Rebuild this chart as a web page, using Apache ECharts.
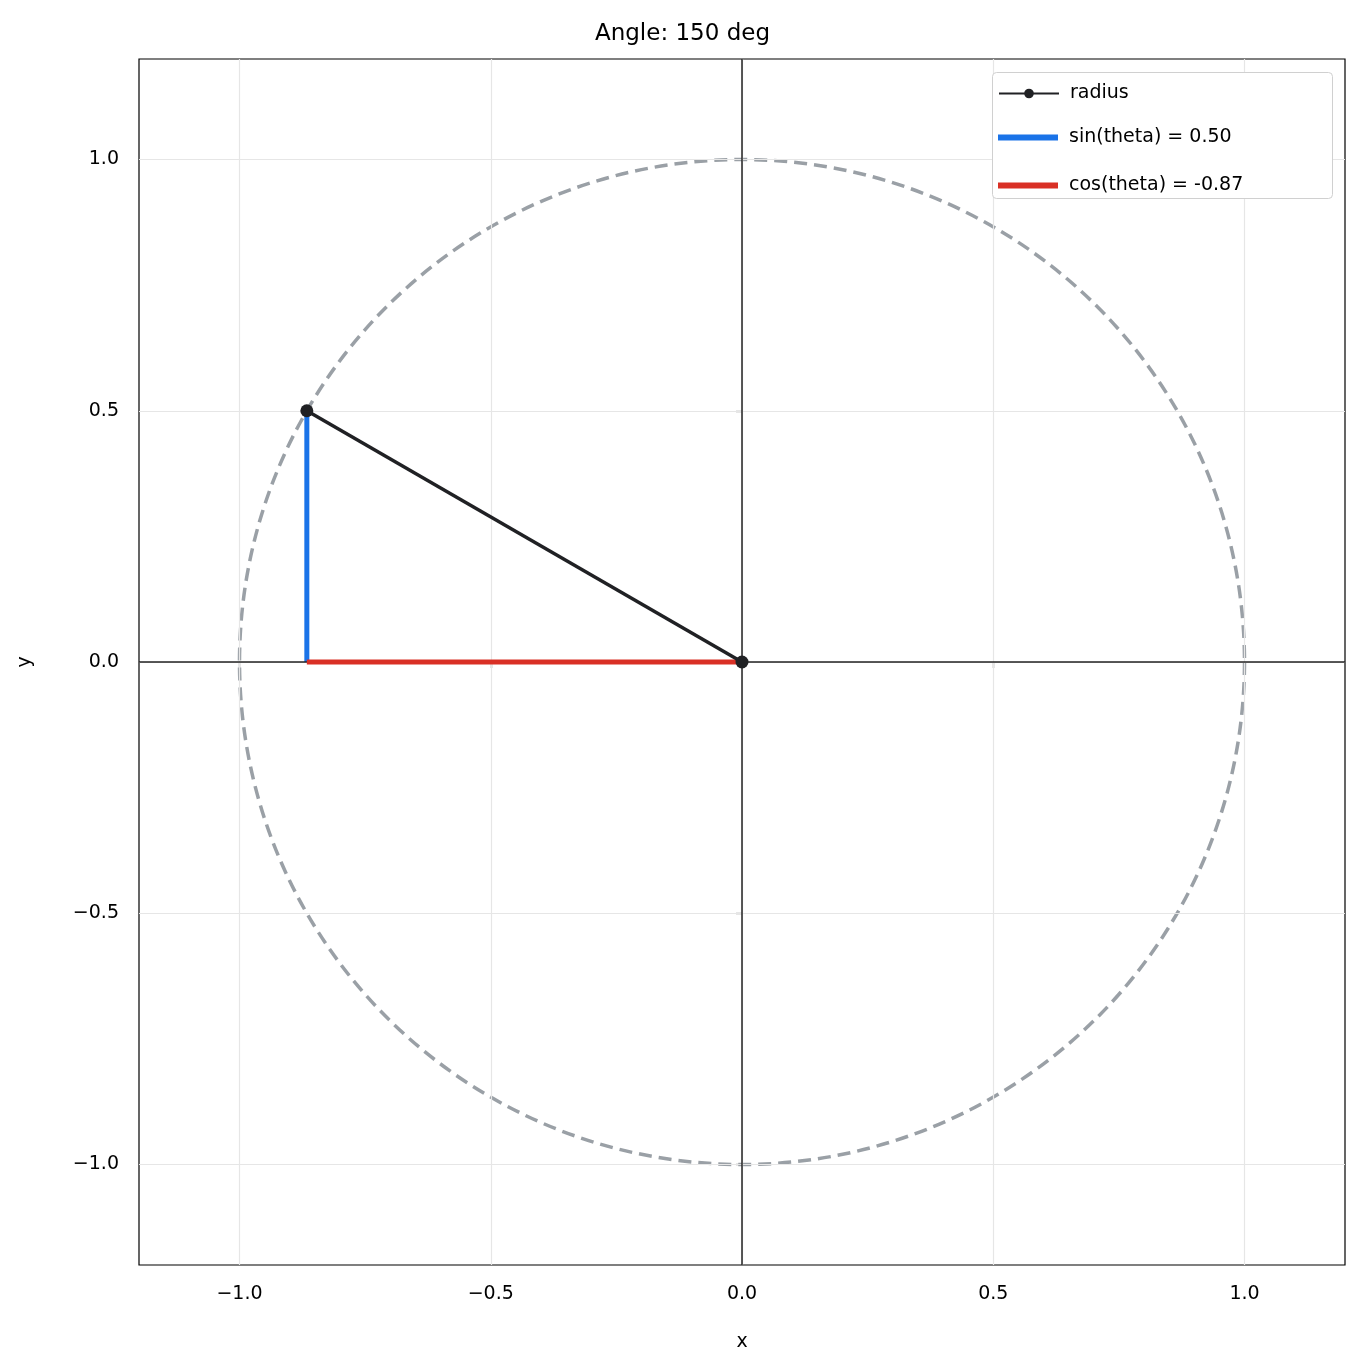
<!DOCTYPE html>
<html><head><meta charset="utf-8">
<script src="https://cdn.jsdelivr.net/npm/echarts@6/dist/echarts.min.js"></script>
<style>html,body{margin:0;padding:0;background:#fff}#c{width:1365px;height:1366px}</style>
</head><body><div id="c"></div>
<script>
const ticks = [-1, -0.5, 0, 0.5, 1];
const angleDeg = 150;
const cosVal = -0.866;
const sinVal = 0.5;
const radiusPts = [[0, 0], [cosVal, sinVal]];
const sinPts = [[cosVal, 0], [cosVal, sinVal]];
const cosPts = [[cosVal, 0], [0, 0]];
const circle = [[0, 0, 1]];

const fmt = v => (v < 0 ? '\u2212' : '') + Math.abs(v).toFixed(1);
const font = 'DejaVu Sans';
function axis(name, gap, margin) {
  return {
    type: 'value', min: -1.2, max: 1.2, name, nameLocation: 'middle', nameGap: gap,
    nameTextStyle: { fontFamily: font, fontSize: 19, color: '#000' },
    axisLine: { show: false },
    axisTick: { show: true, length: 6, customValues: ticks, lineStyle: { color: '#000', width: 1.2 } },
    axisLabel: { customValues: ticks, formatter: fmt, fontFamily: font, fontSize: 19, color: '#000', margin },
    splitLine: { show: false }
  };
}
const gridLines = [];
ticks.forEach(t => { gridLines.push({ xAxis: t }); gridLines.push({ yAxis: t }); });
const legText = { fontFamily: font, fontSize: 19, color: '#000', padding: [0, 0, 0, 6] };

const chart = echarts.init(document.getElementById('c'));
chart.setOption({
  animation: false,
  backgroundColor: '#fff',
  title: { text: 'Angle: ' + angleDeg + ' deg', left: 'center', top: 18,
    textStyle: { fontFamily: font, fontSize: 23, fontWeight: 'normal', color: '#000' } },
  grid: { left: 139, right: 20, top: 59, bottom: 101, show: true, borderColor: '#000', borderWidth: 1.2, backgroundColor: 'transparent' },
  xAxis: axis('x', 68, 20),
  yAxis: axis('y', 104, 20),
  graphic: [{ type: 'rect', left: 992, top: 72, z: 90,
    shape: { width: 340, height: 126, r: 4 },
    style: { fill: '#fff', stroke: '#d0d0d0', lineWidth: 1 } }],
  legend: [
    { orient: 'vertical', left: 998, top: 84, padding: 0, z: 100, itemWidth: 60, itemHeight: 12,
      textStyle: legText, data: ['radius'] },
    { orient: 'vertical', left: 998, top: 128, padding: 0, z: 100, itemGap: 29, itemWidth: 60, itemHeight: 6,
      icon: 'rect', textStyle: legText, data: ['sin(theta) = 0.50', 'cos(theta) = -0.87'] }
  ],
  series: [
    { type: 'line', data: [], silent: true, z: 1,
      markLine: { symbol: 'none', silent: true, label: { show: false },
        lineStyle: { color: '#e6e6e6', width: 1.2, type: 'solid' }, data: gridLines } },
    { type: 'line', data: [], silent: true, z: 2,
      markLine: { symbol: 'none', silent: true, label: { show: false },
        lineStyle: { color: '#222', width: 1.5, type: 'solid' }, data: [{ xAxis: 0 }, { yAxis: 0 }] } },
    { type: 'custom', data: circle, z: 3, silent: true,
      renderItem: (params, api) => {
        const c = api.coord([api.value(0), api.value(1)]);
        const r = api.size([api.value(2), 0])[0];
        return { type: 'circle', shape: { cx: c[0], cy: c[1], r },
          style: { fill: 'none', stroke: '#9aa0a6', lineWidth: 3.5, lineDash: [13, 7] } };
      } },
    { name: 'sin(theta) = 0.50', type: 'line', data: sinPts, symbol: 'none', z: 4,
      lineStyle: { color: '#1a73e8', width: 5 }, itemStyle: { color: '#1a73e8' } },
    { name: 'cos(theta) = -0.87', type: 'line', data: cosPts, symbol: 'none', z: 5,
      lineStyle: { color: '#d93025', width: 5 }, itemStyle: { color: '#d93025' } },
    { name: 'radius', type: 'line', data: radiusPts, symbol: 'circle', symbolSize: 13, z: 6,
      lineStyle: { color: '#202124', width: 3.5 }, itemStyle: { color: '#202124' } }
  ]
});
</script></body></html>
